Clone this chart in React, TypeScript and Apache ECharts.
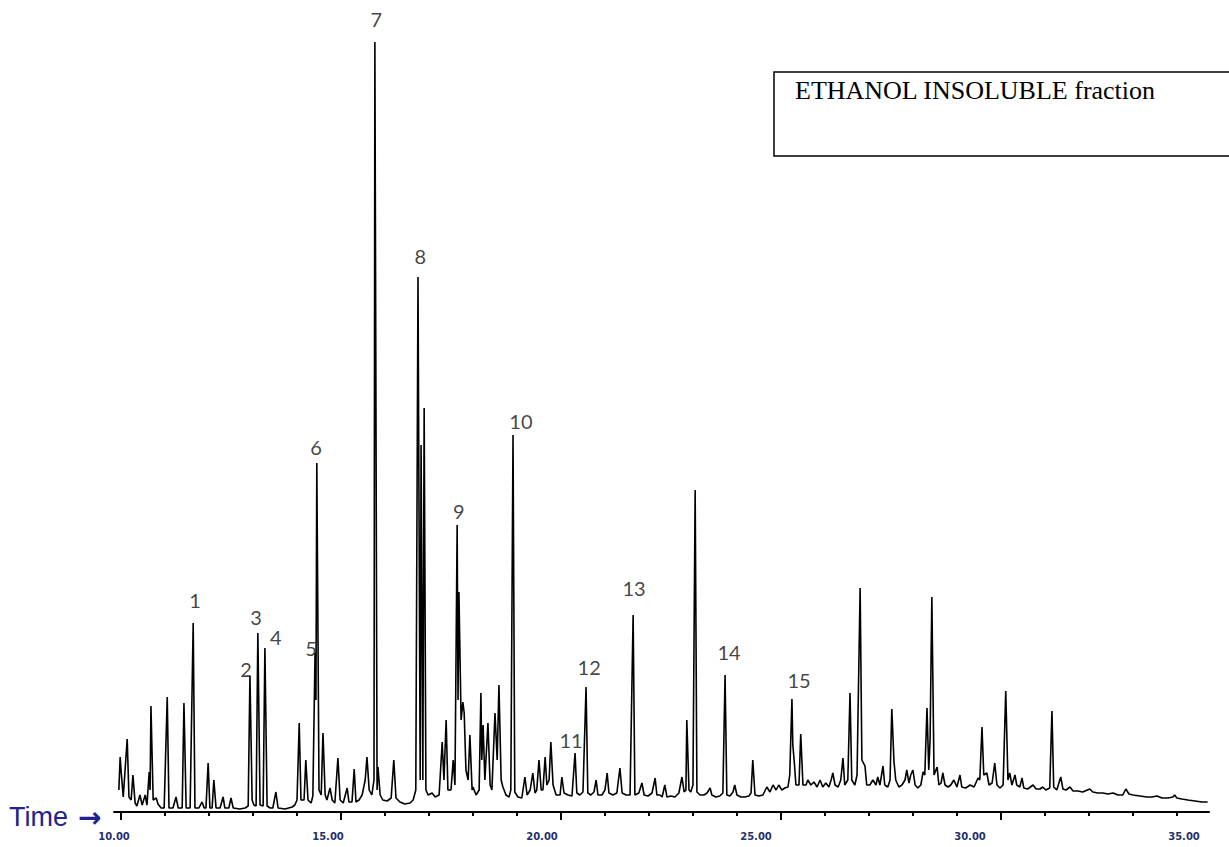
import React, { useEffect, useRef } from "react";
import * as echarts from "echarts";

// Retention time axis (minutes)
const timeMin = 9.84;
const timeMax = 34.73;
const majorTicks = [10, 15, 20, 25, 30];
const minorTicks = [11, 12, 13, 14, 16, 17, 18, 19, 21, 22, 23, 24, 26, 27, 28, 29, 31, 32, 33, 34];
const tickLabels = ["10.00", "15.00", "20.00", "25.00", "30.00", "35.00"];
const tickLabelValues = [10, 15, 20, 25, 30, 35];

// Chromatogram trace: [retention time (min), abundance]
const tracePoints: [number, number][] = [
  [9.95, 22], [9.98, 55], [10.0, 42], [10.05, 15], [10.14, 73], [10.18, 15], [10.23, 12], [10.27, 37],
  [10.32, 9], [10.36, 6], [10.43, 17], [10.48, 7], [10.55, 17], [10.59, 7], [10.64, 40], [10.66, 22],
  [10.68, 106], [10.73, 12], [10.8, 14], [10.84, 8], [10.91, 4], [10.98, 4],
  [11.05, 115], [11.09, 4], [11.18, 4], [11.25, 15], [11.3, 4], [11.39, 4], [11.43, 109], [11.48, 4],
  [11.57, 4], [11.64, 189], [11.68, 4], [11.77, 4], [11.84, 10], [11.89, 4], [11.93, 4], [11.98, 49],
  [12.02, 4], [12.07, 4], [12.11, 32], [12.16, 4], [12.25, 4], [12.32, 15], [12.36, 4], [12.45, 4],
  [12.5, 14], [12.55, 4], [12.7, 3], [12.82, 4], [12.89, 6], [12.93, 136], [12.98, 12],
  [13.02, 7], [13.07, 6], [13.11, 179], [13.16, 7], [13.23, 6], [13.27, 164], [13.32, 6], [13.39, 4],
  [13.45, 4], [13.52, 20], [13.57, 4], [13.73, 3], [13.89, 5], [13.95, 7],
  [14.0, 12], [14.05, 89], [14.09, 12], [14.16, 12], [14.2, 52], [14.25, 12], [14.32, 9], [14.36, 16],
  [14.41, 159], [14.43, 112], [14.45, 349], [14.5, 22], [14.55, 17], [14.59, 79], [14.64, 17], [14.68, 12],
  [14.75, 24], [14.8, 12], [14.86, 9], [14.93, 54], [14.98, 12],
  [15.05, 9], [15.14, 24], [15.18, 10], [15.25, 10], [15.3, 43], [15.34, 10], [15.41, 12], [15.48, 17],
  [15.55, 32], [15.59, 55], [15.64, 22], [15.7, 17], [15.75, 32], [15.77, 770], [15.82, 22], [15.84, 45],
  [15.89, 17], [15.95, 12],
  [16.05, 11], [16.14, 14], [16.2, 52], [16.25, 14], [16.34, 10], [16.45, 8], [16.57, 9], [16.64, 12],
  [16.7, 22], [16.75, 535], [16.8, 32], [16.82, 367], [16.86, 32], [16.89, 404], [16.93, 22], [16.98, 17],
  [17.07, 19], [17.14, 15], [17.23, 17], [17.3, 70], [17.34, 32], [17.39, 92], [17.43, 22], [17.5, 22],
  [17.55, 52], [17.59, 27], [17.64, 287], [17.66, 112], [17.68, 220], [17.73, 92], [17.77, 110], [17.8, 99],
  [17.84, 42], [17.89, 32], [17.93, 77], [17.98, 22],
  [18.0, 25], [18.07, 17], [18.14, 22], [18.18, 119], [18.2, 52], [18.23, 87], [18.27, 32], [18.34, 89],
  [18.39, 27], [18.43, 22], [18.5, 99], [18.55, 52], [18.59, 127], [18.64, 32], [18.68, 25], [18.75, 17],
  [18.82, 15], [18.86, 22], [18.91, 377], [18.95, 20],
  [19.02, 15], [19.11, 14], [19.18, 35], [19.23, 17], [19.3, 22], [19.36, 39], [19.41, 19], [19.45, 22],
  [19.5, 52], [19.55, 22], [19.59, 22], [19.64, 55], [19.68, 27], [19.73, 32], [19.77, 70], [19.82, 27],
  [19.89, 17], [19.98, 17],
  [20.02, 35], [20.07, 19], [20.16, 17], [20.25, 16], [20.32, 59], [20.36, 19], [20.43, 17], [20.5, 20],
  [20.57, 125], [20.61, 19], [20.68, 17], [20.75, 20], [20.8, 32], [20.84, 17], [20.93, 17],
  [21.0, 22], [21.05, 39], [21.09, 19], [21.18, 17], [21.27, 19], [21.34, 44], [21.39, 19], [21.48, 17],
  [21.57, 17], [21.64, 197], [21.68, 17], [21.77, 19], [21.84, 29], [21.89, 17], [21.98, 16],
  [22.07, 19], [22.14, 34], [22.18, 17], [22.25, 17], [22.3, 15], [22.36, 27], [22.41, 15], [22.5, 16],
  [22.59, 15], [22.68, 19], [22.75, 35], [22.8, 20], [22.84, 22], [22.86, 92], [22.91, 22], [22.95, 20],
  [23.0, 27], [23.05, 322], [23.09, 20], [23.16, 17], [23.25, 17], [23.32, 19], [23.39, 24], [23.43, 17],
  [23.52, 15], [23.61, 16], [23.68, 19], [23.73, 137], [23.77, 17], [23.84, 16], [23.91, 20], [23.95, 27],
  [24.0, 17], [24.09, 15], [24.18, 15], [24.27, 16], [24.32, 19], [24.36, 52], [24.41, 17], [24.5, 16],
  [24.59, 17], [24.68, 25], [24.75, 20], [24.82, 27], [24.89, 22], [24.95, 27],
  [25.02, 22], [25.09, 24], [25.16, 25], [25.2, 37], [25.25, 113], [25.27, 67], [25.3, 52], [25.34, 27],
  [25.41, 27], [25.45, 78], [25.5, 27], [25.57, 27], [25.61, 32], [25.68, 27], [25.75, 30], [25.82, 25],
  [25.89, 32], [25.95, 25],
  [26.02, 29], [26.09, 25], [26.14, 32], [26.18, 39], [26.23, 27], [26.3, 25], [26.36, 32], [26.41, 54],
  [26.45, 27], [26.52, 32], [26.57, 119], [26.61, 32], [26.68, 27], [26.73, 37], [26.75, 92], [26.8, 224],
  [26.84, 52], [26.91, 46], [26.95, 27],
  [27.02, 27], [27.09, 32], [27.16, 27], [27.2, 35], [27.25, 27], [27.32, 46], [27.36, 27], [27.43, 25],
  [27.48, 32], [27.52, 103], [27.57, 50], [27.61, 32], [27.68, 25], [27.75, 27], [27.82, 32], [27.86, 42],
  [27.91, 29], [27.95, 37],
  [28.0, 42], [28.05, 27], [28.11, 24], [28.18, 27], [28.23, 40], [28.27, 37], [28.32, 104], [28.36, 42],
  [28.39, 72], [28.43, 215], [28.48, 37], [28.55, 45], [28.59, 27], [28.64, 29], [28.68, 39], [28.73, 27],
  [28.8, 25], [28.86, 27], [28.93, 32],
  [29.0, 25], [29.07, 37], [29.11, 25], [29.2, 24], [29.3, 27], [29.39, 25], [29.48, 34], [29.52, 32],
  [29.57, 85], [29.61, 37], [29.68, 39], [29.73, 27], [29.8, 29], [29.86, 49], [29.91, 27], [29.98, 24],
  [30.05, 27], [30.11, 121], [30.16, 32], [30.2, 39], [30.25, 27], [30.32, 37], [30.36, 27], [30.43, 25],
  [30.48, 34], [30.52, 24], [30.61, 23], [30.73, 27], [30.8, 23], [30.89, 23], [30.95, 25],
  [31.02, 22], [31.11, 24], [31.16, 101], [31.2, 25], [31.27, 22], [31.36, 35], [31.41, 23], [31.48, 22],
  [31.57, 25], [31.64, 21], [31.75, 21], [31.86, 20],
  [32.02, 23], [32.09, 20], [32.2, 19], [32.32, 19], [32.43, 18], [32.55, 19], [32.66, 17], [32.77, 17],
  [32.84, 23], [32.91, 18],
  [33.0, 17], [33.16, 16], [33.32, 15], [33.43, 15], [33.55, 16], [33.66, 14], [33.8, 14], [33.91, 15],
  [33.95, 17], [34.0, 14], [34.11, 13], [34.25, 12], [34.41, 11], [34.57, 10], [34.7, 10],
];

// Peak number labels: names and positions (time, abundance)
const peakNames = ["1", "2", "3", "4", "5", "6", "7", "8", "9", "10", "11", "12", "13", "14", "15"];
const peakLabelTime = [11.68, 12.84, 13.07, 13.52, 14.32, 14.43, 15.8, 16.8, 17.68, 19.09, 20.23, 20.64, 21.66, 23.82, 25.41];
const peakLabelAbundance = [212, 143, 195, 175, 164, 365, 793, 556, 301, 391, 72, 145, 224, 160, 132];

const boxTitle = "ETHANOL INSOLUBLE fraction";
const axisTitleWord = "Time";
const axisTitleArrow = "\u2192";

export default function App() {
  const ref = useRef<HTMLDivElement>(null);

  useEffect(() => {
    if (!ref.current) return;
    const chart = echarts.init(ref.current, undefined, { renderer: "svg" });
    const gridLeft = 114;
    const gridRight = 20;
    const gridTop = 12;
    const gridBottom = 35;
    const labelAxisMax = 10 + 1095 / 42.8;

    chart.setOption({
      animation: false,
      backgroundColor: "#ffffff",
      grid: { left: gridLeft, right: gridRight, top: gridTop, bottom: gridBottom, containLabel: false },
      xAxis: [
        {
          type: "value",
          min: timeMin,
          max: timeMax,
          position: "bottom",
          axisLine: { show: true, onZero: false, lineStyle: { color: "#000", width: 2 } },
          axisTick: { show: true, customValues: majorTicks, length: 8, lineStyle: { color: "#000", width: 2 } },
          axisLabel: { show: false },
          splitLine: { show: false },
        },
        {
          type: "value",
          min: timeMin,
          max: timeMax,
          position: "bottom",
          axisLine: { show: false, onZero: false },
          axisTick: { show: true, customValues: minorTicks, length: 4, lineStyle: { color: "#000", width: 2 } },
          axisLabel: { show: false },
          splitLine: { show: false },
        },
        {
          type: "value",
          min: 10,
          max: labelAxisMax,
          interval: 5,
          position: "bottom",
          axisLine: { show: false, onZero: false },
          axisTick: { show: false },
          splitLine: { show: false },
          axisLabel: {
            show: true,
            customValues: tickLabelValues,
            margin: 19,
            color: "#25306e",
            fontSize: 10,
            fontWeight: "bold",
            fontFamily: "DejaVu Sans",
            formatter: (v: number) => {
              const i = tickLabelValues.indexOf(Math.round(v));
              return i >= 0 ? tickLabels[i] : "";
            },
          },
        },
      ],
      yAxis: {
        type: "value",
        min: 0,
        max: 800,
        show: false,
        splitLine: { show: false },
      },
      series: [
        {
          type: "line",
          xAxisIndex: 0,
          data: tracePoints,
          showSymbol: false,
          symbol: "none",
          lineStyle: { color: "#000", width: 1.6 },
          clip: false,
          z: 3,
        },
        {
          type: "scatter",
          xAxisIndex: 0,
          symbolSize: 1,
          itemStyle: { color: "rgba(0,0,0,0)" },
          data: peakNames.map((n, i) => ({ name: n, value: [peakLabelTime[i], peakLabelAbundance[i]] })),
          label: {
            show: true,
            position: "inside",
            formatter: (p: any) => p.name,
            color: "#111",
            fontSize: 20,
            fontFamily: "Lato",
          },
          z: 4,
        },
      ],
      graphic: [
        {
          type: "rect",
          shape: { x: 774, y: 72, width: 470, height: 84 },
          style: { fill: "#fff", stroke: "#000", lineWidth: 1.5 },
          z: 10,
        },
        {
          type: "text",
          x: 795,
          y: 90,
          style: {
            text: boxTitle,
            fill: "#000",
            font: "26px 'Liberation Serif'",
            verticalAlign: "middle",
          },
          z: 11,
        },
        {
          type: "text",
          x: 9,
          y: 817,
          style: {
            text: "{t|" + axisTitleWord + "}{a|" + axisTitleArrow + "}",
            verticalAlign: "middle",
            rich: {
              t: { fill: "#22228c", font: "27px 'Liberation Sans'", padding: [0, 10, 0, 0] },
              a: { fill: "#22228c", font: "bold 28px 'DejaVu Sans'" },
            },
          },
          z: 11,
        },
      ],
    });
    return () => chart.dispose();
  }, []);

  return (
    <div
      ref={ref}
      style={{ position: "fixed", left: 0, top: 0, width: 1229, height: 847, background: "#fff" }}
    />
  );
}
